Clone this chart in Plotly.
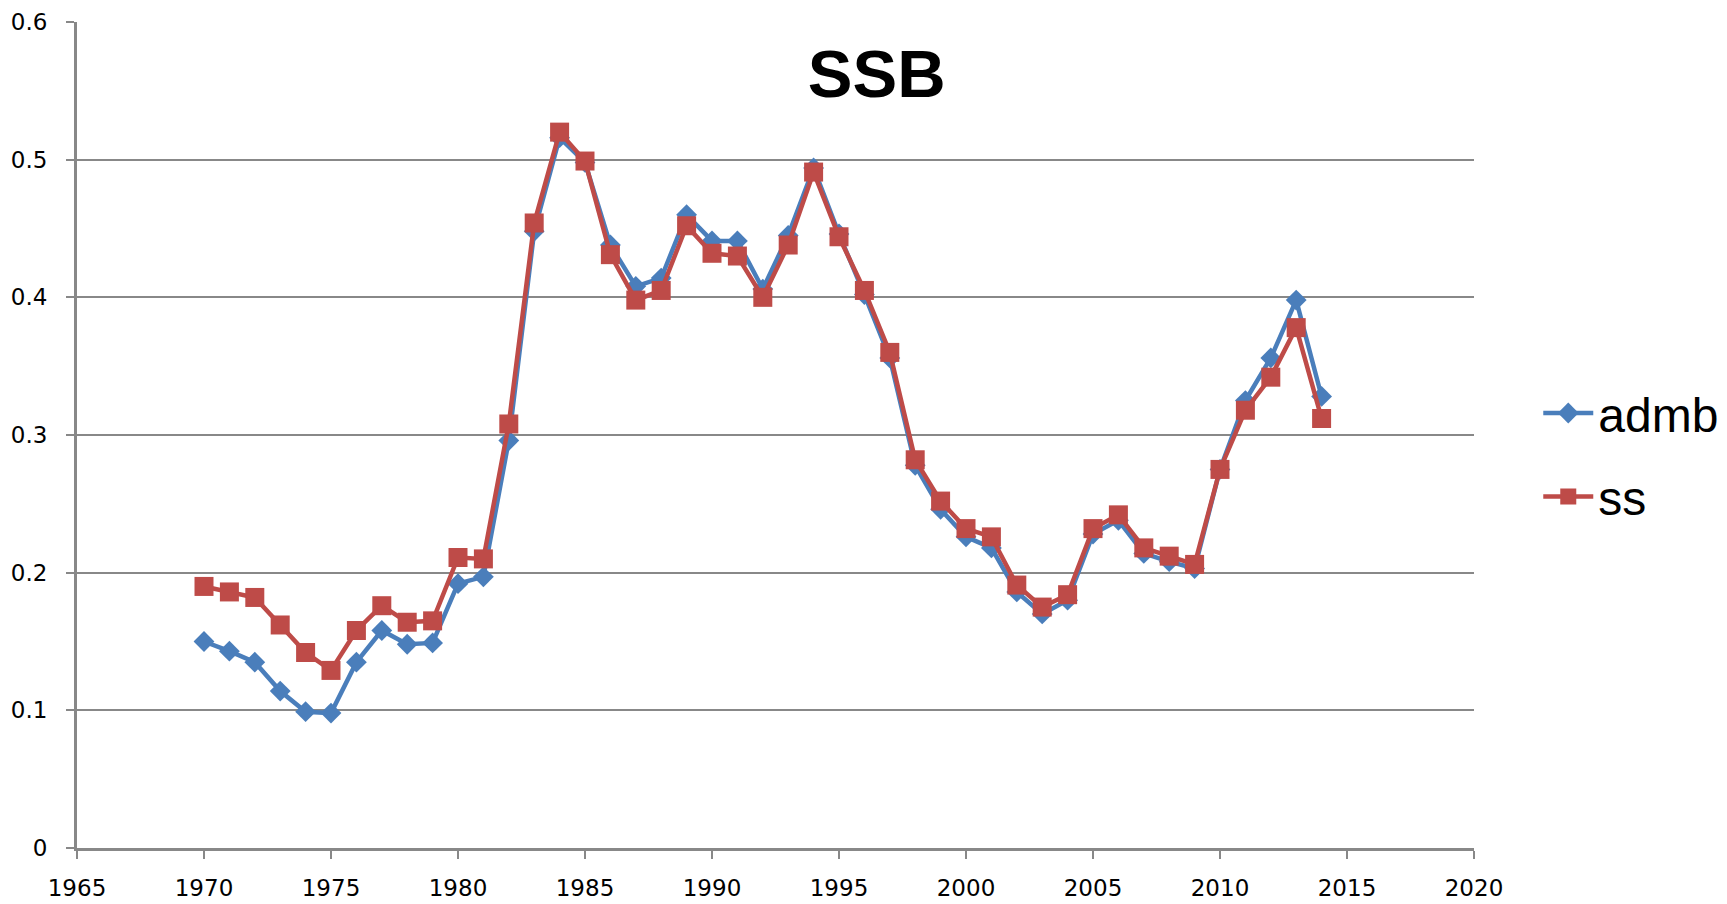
import plotly.graph_objects as go

# data
years = list(range(1970, 2015))
admb = [0.150, 0.143, 0.135, 0.114, 0.099, 0.098, 0.135, 0.158, 0.148, 0.149,
        0.192, 0.197, 0.296, 0.448, 0.516, 0.498, 0.438, 0.408, 0.414, 0.460,
        0.441, 0.441, 0.406, 0.445, 0.494, 0.446, 0.402, 0.356, 0.278, 0.246,
        0.226, 0.218, 0.186, 0.170, 0.180, 0.228, 0.238, 0.214, 0.208, 0.203,
        0.275, 0.325, 0.356, 0.398, 0.328]
ss = [0.190, 0.186, 0.182, 0.162, 0.142, 0.129, 0.158, 0.176, 0.164, 0.165,
      0.211, 0.210, 0.308, 0.454, 0.520, 0.499, 0.431, 0.398, 0.405, 0.452,
      0.432, 0.430, 0.400, 0.438, 0.491, 0.444, 0.405, 0.360, 0.282, 0.252,
      0.232, 0.226, 0.191, 0.175, 0.184, 0.232, 0.242, 0.218, 0.212, 0.206,
      0.275, 0.318, 0.342, 0.378, 0.312]

blue = '#4A7EBB'
red = '#BE4B48'
grey = '#888888'

fig = go.Figure()
fig.add_trace(go.Scatter(x=years, y=admb, name='admb', mode='lines+markers',
                         legendgroup='a',
                         line=dict(color=blue, width=4.5),
                         marker=dict(symbol='diamond', size=16, color=blue)))
fig.add_trace(go.Scatter(x=years, y=ss, name='ss', mode='lines+markers',
                         legendgroup='b',
                         line=dict(color=red, width=4.5),
                         marker=dict(symbol='square', size=19, color=red)))

# page body has an 8px margin, so margins are shifted by that amount
fig.update_layout(
    width=1727, height=904,
    paper_bgcolor='white', plot_bgcolor='white',
    margin=dict(l=69, r=261, t=14, b=64, autoexpand=False),
    font=dict(family='DejaVu Sans', size=23, color='black'),
    title=dict(text='<b>SSB</b>', x=0.503, y=0.928, xanchor='center', yanchor='middle',
               font=dict(family='Liberation Sans', size=67, color='black')),
    legend=dict(x=1.046, y=0.476, xanchor='left', yanchor='middle',
                font=dict(family='Liberation Sans', size=48),
                traceorder='grouped', tracegroupgap=18, itemwidth=50),
    xaxis=dict(range=[1965, 2020], dtick=5, tick0=1965, showgrid=False,
               showline=True, linecolor=grey, linewidth=3,
               ticks='outside', ticklen=8, tickcolor=grey, tickwidth=1.5,
               ticklabelstandoff=9, zeroline=False),
    yaxis=dict(range=[0, 0.6], dtick=0.1, showgrid=True, gridcolor=grey, gridwidth=1.5,
               showline=True, linecolor=grey, linewidth=3,
               ticks='outside', ticklen=8, tickcolor=grey, tickwidth=1.5,
               ticklabelstandoff=14, zeroline=False),
)

fig.write_html("out.html")
